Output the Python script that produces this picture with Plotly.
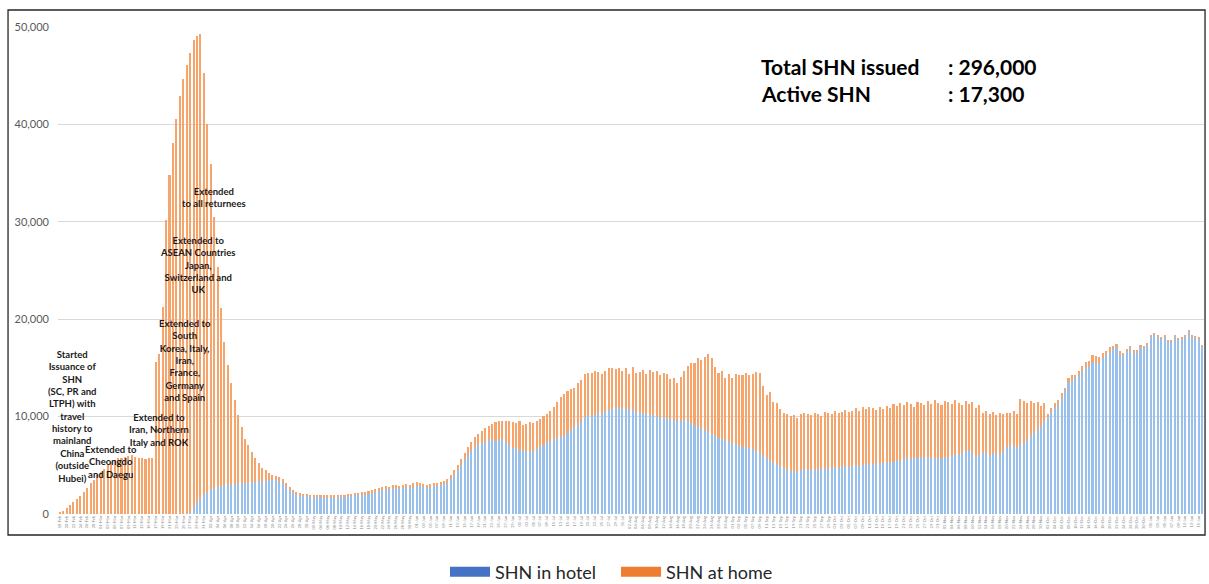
import plotly.graph_objects as go
import pandas as pd

# Daily SHN counts, in thousands
total_k = [
    0.2, 0.35, 0.6, 0.9, 1.2, 1.5, 1.85, 2.3, 2.7, 3.15,
    3.5, 4.0, 4.3, 4.6, 5.0, 5.3, 5.5, 5.7, 5.8, 5.9,
    6.0, 6.1, 5.9, 5.8, 5.8, 5.6, 5.7, 5.8, 15.6, 16.4,
    21.3, 30.2, 34.8, 38.1, 40.6, 42.9, 44.7, 46.1, 47.3, 48.7,
    49.1, 49.3, 45.3, 40.0, 35.9, 30.5, 25.4, 21.2, 17.7, 15.3,
    13.5, 11.7, 10.2, 8.9, 7.7, 7.1, 6.4, 5.8, 5.2, 4.7,
    4.5, 4.2, 4.0, 3.9, 3.8, 3.6, 3.2, 2.8, 2.5, 2.3,
    2.2, 2.1, 2.1, 2.0, 2.0, 2.0, 2.0, 1.9, 1.9, 2.0,
    1.9, 2.0, 2.0, 2.0, 2.1, 2.1, 2.2, 2.2, 2.3, 2.3,
    2.4, 2.5, 2.6, 2.7, 2.8, 2.9, 2.8, 3.0, 3.0, 2.9,
    3.0, 3.1, 3.0, 3.2, 3.3, 3.2, 3.1, 3.0, 3.1, 3.2,
    3.2, 3.3, 3.4, 3.6, 4.0, 4.5, 5.0, 5.6, 6.3, 6.9,
    7.4, 7.9, 8.2, 8.5, 8.8, 9.0, 9.2, 9.4, 9.5, 9.6,
    9.5, 9.5, 9.4, 9.3, 9.5, 9.1, 9.2, 9.4, 9.3, 9.6,
    9.8, 10.1, 10.3, 10.6, 11.0, 11.5, 12.0, 12.3, 12.6, 12.8,
    12.9, 13.5, 13.8, 14.4, 14.5, 14.5, 14.7, 14.6, 14.4, 14.7,
    15.0, 15.0, 14.9, 15.0, 14.7, 15.0, 14.4, 15.1, 14.5, 14.6,
    14.8, 14.4, 14.8, 14.6, 14.7, 14.3, 14.5, 14.4, 13.9, 14.0,
    13.5, 14.1, 14.7, 15.2, 15.5, 15.5, 16.0, 15.8, 16.1, 16.4,
    16.0, 15.1, 14.5, 14.7, 14.0, 14.4, 14.0, 14.4, 14.3, 14.3,
    14.5, 14.3, 14.4, 14.6, 14.5, 13.1, 12.2, 12.5, 11.5, 11.4,
    10.8, 10.4, 10.3, 10.1, 10.2, 9.9, 10.3, 10.4, 10.3, 10.2,
    10.4, 10.3, 10.1, 10.5, 10.4, 10.3, 10.6, 10.4, 10.5, 10.7,
    10.5, 10.6, 10.9, 10.6, 11.0, 10.8, 11.0, 10.9, 10.7, 11.0,
    10.8, 11.1, 10.9, 11.3, 11.1, 11.4, 11.2, 11.5, 11.3, 11.0,
    11.5, 11.4, 11.2, 11.6, 11.3, 11.7, 11.4, 11.2, 11.6, 11.5,
    11.3, 11.7, 11.4, 11.2, 11.6, 11.3, 11.5, 10.9, 11.2, 10.4,
    10.6, 10.3, 10.5, 10.2, 10.4, 10.3, 10.4, 10.4, 10.6, 10.3,
    11.8, 11.6, 11.4, 11.6, 11.4, 11.5, 11.1, 11.4, 10.3, 10.9,
    11.4, 11.7, 12.4, 12.9, 14.0, 14.3, 14.3, 14.7, 15.2, 15.6,
    15.7, 16.3, 16.2, 16.1, 16.5, 16.7, 17.1, 17.2, 17.5, 16.7,
    16.5, 16.9, 17.3, 16.8, 16.8, 17.4, 17.3, 17.6, 18.4, 18.6,
    18.4, 18.2, 18.4, 17.9, 17.9, 18.4, 18.1, 18.2, 18.4, 18.9,
    18.4, 18.3, 18.2, 17.4,
]

hotel_k = [0.0] * 38 + [
    0.2, 0.7, 1.2, 1.6, 2.0, 2.3, 2.5, 2.7, 2.8, 2.9,
    3.0, 3.0, 3.1, 3.0, 3.2, 3.2, 3.1, 3.3, 3.2, 3.3,
    3.4, 3.3, 3.4, 3.5, 3.5, 3.5, 3.4, 3.2, 2.8, 2.5,
    2.2, 2.0, 1.9, 1.9, 1.8, 1.8, 1.8, 1.7, 1.7, 1.7,
    1.7, 1.7, 1.7, 1.7, 1.7, 1.8, 1.8, 1.8, 1.9, 1.9,
    2.0, 2.0, 2.1, 2.2, 2.3, 2.4, 2.5, 2.6, 2.5, 2.7,
    2.7, 2.6, 2.7, 2.8, 2.7, 2.8, 2.9, 2.9, 2.8, 2.7,
    2.8, 2.9, 2.9, 3.0, 3.1, 3.2, 3.6, 4.0, 4.5, 5.0,
    5.6, 6.1, 6.5, 6.9, 7.1, 7.3, 7.4, 7.6, 7.6, 7.5,
    7.6, 7.7, 7.4, 7.1, 6.8, 6.8, 6.6, 6.5, 6.5, 6.4,
    6.5, 6.7, 6.9, 7.1, 7.3, 7.5, 7.7, 7.8, 7.9, 8.0,
    8.3, 8.6, 8.9, 9.1, 9.6, 10.0, 10.1, 10.1, 10.2, 10.4,
    10.3, 10.6, 10.7, 10.8, 10.9, 10.9, 10.9, 10.8, 10.7, 10.8,
    10.4, 10.4, 10.4, 10.3, 10.2, 10.2, 10.1, 9.9, 10.0, 9.8,
    9.8, 9.7, 9.6, 9.6, 9.7, 9.5, 9.3, 9.1, 8.9, 8.8,
    8.6, 8.4, 8.2, 8.0, 7.8, 7.7, 7.6, 7.4, 7.3, 7.2,
    7.0, 6.9, 6.9, 6.8, 6.7, 6.5, 6.3, 6.0, 5.7, 5.4,
    5.3, 5.1, 4.9, 4.7, 4.5, 4.4, 4.4, 4.3, 4.5, 4.6,
    4.5, 4.5, 4.6, 4.5, 4.6, 4.7, 4.6, 4.7, 4.8, 4.7,
    4.8, 4.9, 4.8, 4.9, 5.0, 4.9, 5.0, 5.1, 5.0, 5.1,
    5.2, 5.1, 5.2, 5.3, 5.2, 5.3, 5.5, 5.4, 5.6, 5.7,
    5.6, 5.8, 5.7, 5.9, 5.8, 5.9, 5.7, 5.8, 5.6, 5.7,
    5.9, 5.8, 6.0, 6.2, 6.1, 6.3, 6.5, 6.6, 6.3, 5.9,
    6.1, 6.4, 6.2, 6.0, 6.3, 6.2, 6.1, 6.5, 6.9, 7.0,
    7.0, 6.8, 7.1, 7.3, 7.6, 8.1, 8.3, 8.7, 8.9, 9.5,
    10.0, 10.5, 11.0, 11.2, 11.9, 12.8, 13.5, 13.8, 14.0, 14.3,
    14.6, 15.1, 15.1, 15.6, 15.4, 15.5, 16.0, 16.3, 16.6, 16.9,
    17.1, 16.5, 16.3, 16.7, 17.1, 16.6, 16.6, 17.2, 17.1, 17.4,
    18.2, 18.4, 18.2, 18.0, 18.2, 17.7, 17.7, 18.2, 17.9, 18.0,
    18.2, 18.7, 18.2, 18.1, 18.0, 17.2,
]

start_date = "2020-02-18"
dates = [d.strftime("%d-%b") for d in pd.date_range(start_date, periods=len(total_k))]

hotel = [round(h * 1000) for h in hotel_k]
home = [round((t - h) * 1000) for t, h in zip(total_k, hotel_k)]

y_ticks = [0, 10000, 20000, 30000, 40000, 50000]

notes = [
    ("Started<br>Issuance of<br>SHN<br>(SC, PR and<br>LTPH) with<br>travel<br>history to<br>mainland<br>China<br>(outside<br>Hubei)", 3.7, 10020),
    ("Extended to<br>Cheongdo<br>and Daegu", 14.8, 5320),
    ("Extended to<br>Iran, Northern<br>Italy and ROK", 28.9, 8620),
    ("Extended to<br>South<br>Korea, Italy,<br>Iran,<br>France,<br>Germany<br>and Spain", 36.4, 15720),
    ("Extended to<br>ASEAN Countries<br>Japan,<br>Switzerland and<br>UK", 40.2, 25560),
    ("Extended<br>to all returnees", 45.1, 32460),
]

BLUE_BAR = "#98C0EB"
ORANGE_BAR = "#F5A46C"
BLUE = "#4472C4"
ORANGE = "#ED7D31"
FONT = "Lato"

fig = go.Figure()
fig.add_trace(go.Bar(x=dates, y=hotel, marker=dict(color=BLUE_BAR, line=dict(width=0)),
                     showlegend=False, name="SHN in hotel"))
fig.add_trace(go.Bar(x=dates, y=home, marker=dict(color=ORANGE_BAR, line=dict(width=0)),
                     showlegend=False, name="SHN at home"))
# legend entries (wide colour swatches)
fig.add_trace(go.Scatter(x=[None], y=[None], mode="lines", name="SHN in hotel",
                         line=dict(color=BLUE, width=13)))
fig.add_trace(go.Scatter(x=[None], y=[None], mode="lines", name="SHN at home",
                         line=dict(color=ORANGE, width=13)))

annotations = []
for text, xi, yv in notes:
    annotations.append(dict(x=xi, y=yv, xref="x", yref="y", text=text, showarrow=False,
                            xanchor="center", yanchor="middle", align="center",
                            font=dict(family=FONT, size=9.5, color="#1a1a1a", weight="bold")))

for row_y, label, val in [(0.918, "Total SHN issued", ": 296,000"), (0.864, "Active SHN", ": 17,300")]:
    annotations.append(dict(x=0.6115, y=row_y, xref="paper", yref="paper", text=label,
                            showarrow=False, xanchor="left", yanchor="middle",
                            font=dict(family=FONT, size=21, color="#000000", weight="bold")))
    annotations.append(dict(x=0.775, y=row_y, xref="paper", yref="paper", text=val,
                            showarrow=False, xanchor="left", yanchor="middle",
                            font=dict(family=FONT, size=21, color="#000000", weight="bold")))

fig.update_layout(
    width=1209, height=584,
    margin=dict(l=58, r=5, t=27, b=70, autoexpand=False),
    paper_bgcolor="white", plot_bgcolor="white",
    barmode="stack", bargap=0.4,
    font=dict(family=FONT),
    legend=dict(orientation="h", x=0.3377, xanchor="left",
                yref="container", y=1 - 572 / 584, yanchor="middle",
                traceorder="normal",
                font=dict(family=FONT, size=18, color="#262626"),
                itemwidth=40, entrywidth=116, entrywidthmode="pixels"),
    annotations=annotations,
    shapes=[dict(type="rect", xref="paper", yref="paper",
                 x0=-0.0436, x1=1.0009, y0=-0.0431, y1=1.0349,
                 line=dict(color="#262626", width=1.3), fillcolor="rgba(0,0,0,0)", layer="above")],
    xaxis=dict(type="category", range=[-0.5, len(total_k) - 0.5],
               tickmode="array", tickvals=dates[::2], ticktext=dates[::2],
               tickangle=-90, tickfont=dict(size=4, color="#8c8c8c"),
               showgrid=False, showline=False, ticks="", zeroline=False),
    yaxis=dict(range=[0, 50000], tickvals=y_ticks, tickformat=",",
               tickfont=dict(family=FONT, size=11, color="#595959"),
               gridcolor="#d9d9d9", gridwidth=1, zeroline=False, showline=False,
               ticklabelstandoff=8),
)

fig.write_html("out.html", config={"displayModeBar": False},
               post_script="document.body.style.margin='0';")
